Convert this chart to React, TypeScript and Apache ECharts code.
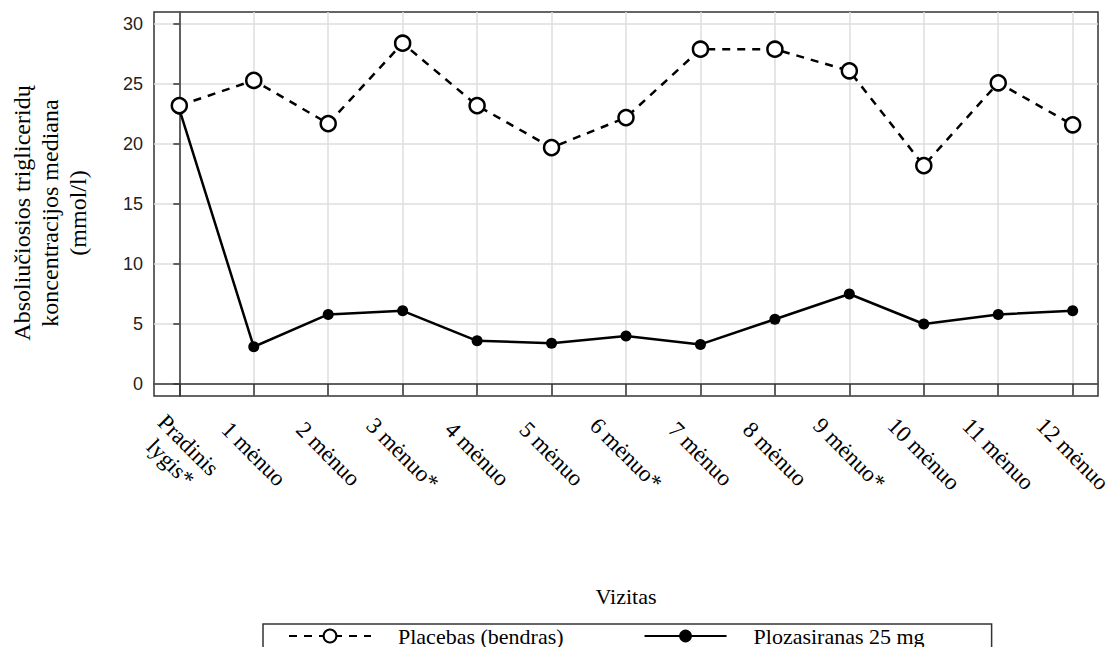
import React, { useEffect, useRef } from "react";
import * as echarts from "echarts";

const categories = [
  "Pradinis\nlygis*",
  "1 mėnuo",
  "2 mėnuo",
  "3 mėnuo*",
  "4 mėnuo",
  "5 mėnuo",
  "6 mėnuo*",
  "7 mėnuo",
  "8 mėnuo",
  "9 mėnuo*",
  "10 mėnuo",
  "11 mėnuo",
  "12 mėnuo",
];
const placeboValues = [23.2, 25.3, 21.7, 28.4, 23.2, 19.7, 22.2, 27.9, 27.9, 26.1, 18.2, 25.1, 21.6];
const plozasiranValues = [22.9, 3.1, 5.8, 6.1, 3.6, 3.4, 4.0, 3.3, 5.4, 7.5, 5.0, 5.8, 6.1];
const yTicks = [0, 5, 10, 15, 20, 25, 30];
const xTicks = categories.map((_, i) => i);
const placeboName = "Placebas (bendras)";
const plozasiranName = "Plozasiranas 25 mg";
const yTitle = "Absoliučiosios trigliceridų\nkoncentracijos mediana\n(mmol/l)";
const xTitle = "Vizitas";

const SERIF = "'Liberation Serif', 'Times New Roman', serif";
const SANS = "'Liberation Sans', Arial, sans-serif";

export default function App() {
  const ref = useRef<HTMLDivElement>(null);
  useEffect(() => {
    if (!ref.current) return;
    const chart = echarts.init(ref.current, undefined, { renderer: "svg" });
    chart.setOption({
      animation: false,
      backgroundColor: "#ffffff",
      grid: {
        left: 154,
        right: 19,
        top: 12,
        bottom: 251,
        show: true,
        borderColor: "#333",
        borderWidth: 1.5,
        containLabel: false,
      },
      legend: {
        data: [placeboName, plozasiranName],
        left: 263,
        top: 624,
        orient: "horizontal",
        padding: [1, 67, 40, 25],
        itemWidth: 82,
        itemHeight: 16,
        itemGap: 80,
        borderColor: "#333",
        borderWidth: 1.5,
        textStyle: {
          fontFamily: SERIF,
          fontSize: 22,
          color: "#000",
          padding: [0, 0, 0, 22],
        },
      },
      xAxis: {
        type: "value",
        min: -0.34,
        max: 12.34,
        splitNumber: 13,
        name: xTitle,
        nameLocation: "middle",
        nameGap: 189,
        nameTextStyle: { fontFamily: SERIF, fontSize: 22, color: "#000" },
        axisLine: { show: true, lineStyle: { color: "#333", width: 1.5 } },
        axisTick: {
          show: true,
          length: 12,
          customValues: xTicks,
          lineStyle: { color: "#333", width: 1.5 },
        },
        axisLabel: {
          customValues: xTicks,
          rotate: -45,
          align: "center",
          verticalAlign: "middle",
          margin: 58,
          fontFamily: SERIF,
          fontSize: 23,
          lineHeight: 25,
          color: "#000",
          formatter: (v: number) => {
            const i = Math.round(v);
            return Math.abs(v - i) < 1e-6 && categories[i] !== undefined ? categories[i] : "";
          },
        },
        splitLine: { show: true, lineStyle: { color: "#dedede", width: 1.5 } },
      },
      yAxis: {
        type: "value",
        min: -1,
        max: 31,
        splitNumber: 6,
        name: yTitle,
        nameLocation: "middle",
        nameGap: 62,
        nameTextStyle: {
          fontFamily: SERIF,
          fontSize: 24,
          lineHeight: 28,
          color: "#000",
          padding: [0, 18, 0, 0],
        },
        axisLine: { show: true, lineStyle: { color: "#333", width: 1.5 } },
        axisTick: {
          show: true,
          length: 6,
          customValues: yTicks,
          lineStyle: { color: "#333", width: 1.5 },
        },
        axisLabel: {
          customValues: yTicks,
          margin: 11,
          fontFamily: SANS,
          fontSize: 18,
          color: "#222",
          formatter: (v: number) => (yTicks.indexOf(v) >= 0 ? String(v) : ""),
        },
        splitLine: { show: true, lineStyle: { color: "#dedede", width: 1.5 } },
      },
      series: [
        {
          name: plozasiranName,
          type: "line",
          data: plozasiranValues.map((v, i) => [i, v]),
          symbol: "circle",
          symbolSize: 11,
          z: 2,
          lineStyle: { color: "#000", width: 2.5, type: "solid" },
          itemStyle: { color: "#000", borderColor: "#000", borderWidth: 0 },
        },
        {
          name: placeboName,
          type: "line",
          data: placeboValues.map((v, i) => [i, v]),
          symbol: "circle",
          symbolSize: 15,
          z: 3,
          lineStyle: { color: "#000", width: 2.5, type: [8, 7] },
          itemStyle: { color: "#fff", borderColor: "#000", borderWidth: 2.5 },
        },
      ],
    });
    return () => chart.dispose();
  }, []);
  return (
    <div
      ref={ref}
      style={{ position: "fixed", left: 0, top: 0, width: 1117, height: 647, background: "#fff" }}
    />
  );
}
